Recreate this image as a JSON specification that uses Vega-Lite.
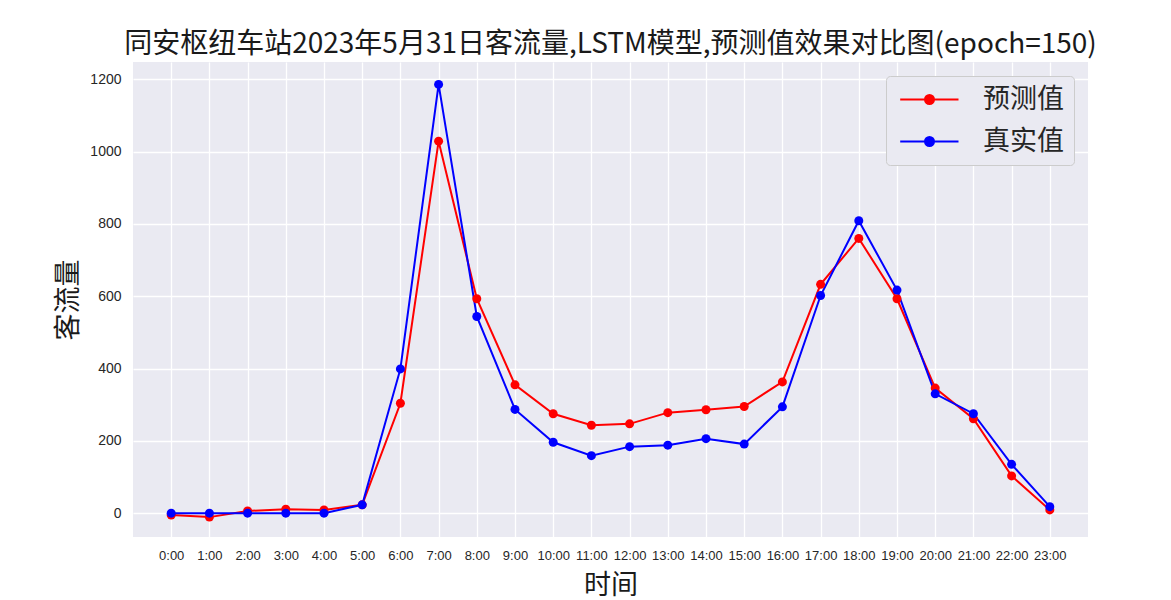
{
  "$schema": "https://vega.github.io/schema/vega-lite/v6.json",
  "width": 955,
  "height": 475,
  "autosize": "none",
  "padding": {"left": 133, "top": 62, "right": 83, "bottom": 63},
  "background": "white",
  "title": {
    "text": "同安枢纽车站2023年5月31日客流量,LSTM模型,预测值效果对比图(epoch=150)",
    "font": "Noto Sans CJK SC",
    "fontSize": 28,
    "fontWeight": "normal",
    "color": "#1a1a1a",
    "anchor": "middle",
    "offset": 3
  },
  "data": {
    "values": [
      {"time": "0:00", "series": "预测值", "value": -5},
      {"time": "1:00", "series": "预测值", "value": -11},
      {"time": "2:00", "series": "预测值", "value": 6},
      {"time": "3:00", "series": "预测值", "value": 11},
      {"time": "4:00", "series": "预测值", "value": 9},
      {"time": "5:00", "series": "预测值", "value": 23},
      {"time": "6:00", "series": "预测值", "value": 304},
      {"time": "7:00", "series": "预测值", "value": 1029},
      {"time": "8:00", "series": "预测值", "value": 593},
      {"time": "9:00", "series": "预测值", "value": 355},
      {"time": "10:00", "series": "预测值", "value": 275},
      {"time": "11:00", "series": "预测值", "value": 243},
      {"time": "12:00", "series": "预测值", "value": 247},
      {"time": "13:00", "series": "预测值", "value": 278},
      {"time": "14:00", "series": "预测值", "value": 286},
      {"time": "15:00", "series": "预测值", "value": 295},
      {"time": "16:00", "series": "预测值", "value": 363},
      {"time": "17:00", "series": "预测值", "value": 633},
      {"time": "18:00", "series": "预测值", "value": 760},
      {"time": "19:00", "series": "预测值", "value": 593},
      {"time": "20:00", "series": "预测值", "value": 346},
      {"time": "21:00", "series": "预测值", "value": 261},
      {"time": "22:00", "series": "预测值", "value": 103},
      {"time": "23:00", "series": "预测值", "value": 9},
      {"time": "0:00", "series": "真实值", "value": 0},
      {"time": "1:00", "series": "真实值", "value": 0},
      {"time": "2:00", "series": "真实值", "value": 0},
      {"time": "3:00", "series": "真实值", "value": 0},
      {"time": "4:00", "series": "真实值", "value": 0},
      {"time": "5:00", "series": "真实值", "value": 23},
      {"time": "6:00", "series": "真实值", "value": 399},
      {"time": "7:00", "series": "真实值", "value": 1186},
      {"time": "8:00", "series": "真实值", "value": 544},
      {"time": "9:00", "series": "真实值", "value": 287},
      {"time": "10:00", "series": "真实值", "value": 196},
      {"time": "11:00", "series": "真实值", "value": 159},
      {"time": "12:00", "series": "真实值", "value": 184},
      {"time": "13:00", "series": "真实值", "value": 188},
      {"time": "14:00", "series": "真实值", "value": 206},
      {"time": "15:00", "series": "真实值", "value": 191},
      {"time": "16:00", "series": "真实值", "value": 294},
      {"time": "17:00", "series": "真实值", "value": 602},
      {"time": "18:00", "series": "真实值", "value": 809},
      {"time": "19:00", "series": "真实值", "value": 617},
      {"time": "20:00", "series": "真实值", "value": 330},
      {"time": "21:00", "series": "真实值", "value": 275},
      {"time": "22:00", "series": "真实值", "value": 135},
      {"time": "23:00", "series": "真实值", "value": 18}
    ]
  },
  "mark": {"type": "line", "strokeWidth": 2, "point": {"filled": true, "size": 81, "opacity": 1}},
  "encoding": {
    "x": {
      "field": "time",
      "type": "ordinal",
      "sort": null,
      "scale": {"type": "point", "padding": 1.13},
      "axis": {
        "title": "时间",
        "titleFont": "Noto Sans CJK SC",
        "titleFontSize": 27,
        "titleFontWeight": "normal",
        "titleColor": "#1a1a1a",
        "titlePadding": 10,
        "labelAngle": 0,
        "labelFont": "Liberation Sans",
        "labelFontSize": 13,
        "labelColor": "#262626",
        "labelPadding": 12,
        "labelOverlap": false,
        "ticks": false,
        "domain": false,
        "grid": true,
        "gridColor": "white",
        "gridWidth": 1.3
      }
    },
    "y": {
      "field": "value",
      "type": "quantitative",
      "scale": {"domain": [-66, 1248], "nice": false, "zero": false},
      "axis": {
        "title": "客流量",
        "titleFont": "Noto Sans CJK SC",
        "titleFontSize": 27,
        "titleFontWeight": "normal",
        "titleColor": "#1a1a1a",
        "titlePadding": 7,
        "values": [0, 200, 400, 600, 800, 1000, 1200],
        "format": "d",
        "labelFont": "Liberation Sans",
        "labelFontSize": 14,
        "labelColor": "#262626",
        "labelPadding": 12,
        "ticks": false,
        "domain": false,
        "grid": true,
        "gridColor": "white",
        "gridWidth": 1.3
      }
    },
    "color": {
      "field": "series",
      "type": "nominal",
      "scale": {"domain": ["预测值", "真实值"], "range": ["red", "blue"]},
      "legend": {
        "title": null,
        "orient": "top-right",
        "offset": 14,
        "fillColor": "#EAEAF2",
        "strokeColor": "#CCCCCC",
        "cornerRadius": 4,
        "padding": 10,
        "labelFont": "Noto Sans CJK SC",
        "labelFontSize": 27,
        "labelColor": "#262626",
        "labelOffset": 60,
        "rowPadding": 14,
        "symbolType": "M-0.93,0L4.9,0M1.55,0A0.45,0.45 0 1,0 2.45,0A0.45,0.45 0 1,0 1.55,0Z",
        "symbolSize": 400,
        "symbolStrokeWidth": 2,
        "symbolOpacity": 1
      }
    }
  },
  "config": {
    "view": {"fill": "#EAEAF2", "stroke": null}
  }
}
